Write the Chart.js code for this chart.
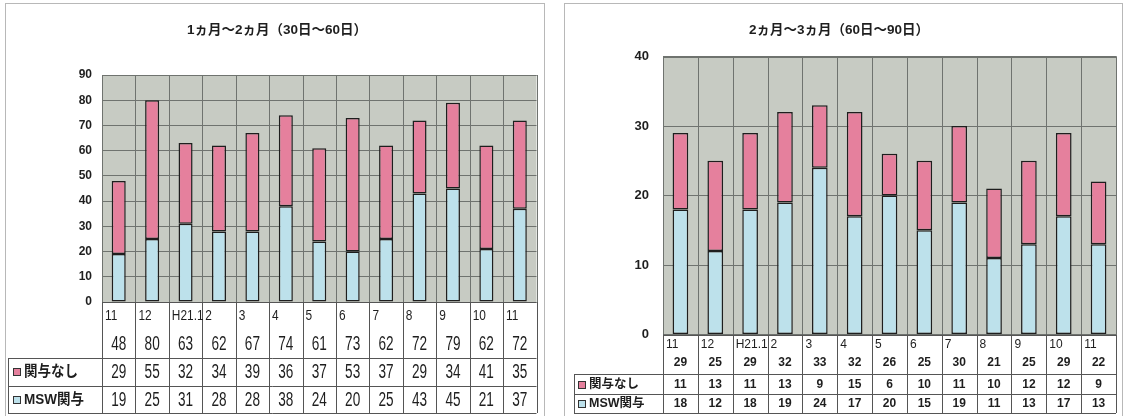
<!DOCTYPE html>
<html lang="ja">
<head>
<meta charset="utf-8">
<script src="https://cdn.jsdelivr.net/npm/chart.js@4.4.1/dist/chart.umd.min.js"></script>
<style>
  html, body { margin: 0; padding: 0; background: #fff; width: 1124px; height: 416px; overflow: hidden; }
  .panel { position: absolute; border: 1px solid #b8b8b8; background: #fff; box-sizing: border-box; }
  #p1 { left: 5px; top: 3px; width: 540px; height: 430px; }
  #p2 { left: 564px; top: 3px; width: 559px; height: 430px; }
  .panel canvas { position: absolute; left: 0; top: 0; }
</style>
</head>
<body>
<div class="panel" id="p1"><canvas id="c1" width="538" height="412"></canvas></div>
<div class="panel" id="p2"><canvas id="c2" width="557" height="412"></canvas></div>
<script>
// Months (H20.11 - H21.11)
const categories = ['11', '12', 'H21.1', '2', '3', '4', '5', '6', '7', '8', '9', '10', '11'];
const seriesNames = ['関与なし', 'MSW関与'];

// 1ヵ月～2ヵ月 (30日～60日)
const totals30 = [48, 80, 63, 62, 67, 74, 61, 73, 62, 72, 79, 62, 72];
const none30   = [29, 55, 32, 34, 39, 36, 37, 53, 37, 29, 34, 41, 35];
const msw30    = [19, 25, 31, 28, 28, 38, 24, 20, 25, 43, 45, 21, 37];
const yTicks30 = [0, 10, 20, 30, 40, 50, 60, 70, 80, 90];

// 2ヵ月～3ヵ月 (60日～90日)
const totals60 = [29, 25, 29, 32, 33, 32, 26, 25, 30, 21, 25, 29, 22];
const none60   = [11, 13, 11, 13, 9, 15, 6, 10, 11, 10, 12, 12, 9];
const msw60    = [18, 12, 18, 19, 24, 17, 20, 15, 19, 11, 13, 17, 13];
const yTicks60 = [0, 10, 20, 30, 40];

const PINK = '#e5809d';
const BLUE = '#bde1eb';
const PLOT_BG = '#c7cbc3';
const GRID = '#6f736f';
const INK = '#1e1e1e';
const FAMILY = "'Liberation Sans', 'Noto Sans CJK JP', sans-serif";

function txt(ctx, s, x, y, font, align, sx) {
  ctx.save();
  ctx.translate(x, y);
  ctx.scale(sx || 1, 1);
  ctx.font = font;
  ctx.textAlign = align;
  ctx.textBaseline = 'middle';
  ctx.fillStyle = INK;
  ctx.fillText(s, 0, 0);
  ctx.restore();
}

function hline(ctx, x1, x2, y) {
  ctx.beginPath(); ctx.moveTo(x1, y + 0.5); ctx.lineTo(x2, y + 0.5); ctx.stroke();
}
function vline(ctx, x, y1, y2) {
  ctx.beginPath(); ctx.moveTo(x + 0.5, y1); ctx.lineTo(x + 0.5, y2); ctx.stroke();
}

// Plot background, category separators, outline, title and the data table beneath the axis
const tablePlugin = {
  id: 'dataTable',
  beforeDraw(chart, args, o) {
    const { ctx, chartArea: a } = chart;
    ctx.save();
    ctx.fillStyle = PLOT_BG;
    ctx.fillRect(a.left, a.top, a.right - a.left, a.bottom - a.top);
    ctx.restore();
  },
  beforeDatasetsDraw(chart, args, o) {
    const { ctx, chartArea: a, scales: { x } } = chart;
    const step = x.getPixelForValue(1) - x.getPixelForValue(0);
    ctx.save();
    ctx.strokeStyle = GRID;
    ctx.lineWidth = 1;
    for (let i = 0; i <= o.categories.length; i++) {
      const px = Math.round(x.getPixelForValue(i) - step / 2);
      vline(ctx, px, a.top, a.bottom);
    }
    ctx.restore();
  },
  afterDraw(chart, args, o) {
    const { ctx, chartArea: a, scales: { x } } = chart;
    const step = x.getPixelForValue(1) - x.getPixelForValue(0);
    ctx.save();
    // plot outline
    ctx.strokeStyle = GRID;
    ctx.lineWidth = 1;
    hline(ctx, a.left, a.right, Math.round(a.top));
    vline(ctx, Math.round(a.right), a.top, a.bottom);
    // title
    txt(ctx, o.title, o.titleX, o.titleY, o.titleFont, 'center', 1);

    // table grid
    ctx.strokeStyle = '#555';
    hline(ctx, a.left, a.right, Math.round(a.bottom));
    for (let i = 0; i <= o.categories.length; i++) {
      const px = Math.round(x.getPixelForValue(i) - step / 2);
      vline(ctx, px, a.bottom, o.rowLines[o.rowLines.length - 1]);
    }
    o.rowLines.forEach(y => hline(ctx, o.keyLeft, a.right, y));
    vline(ctx, o.keyLeft, o.rowLines[0], o.rowLines[o.rowLines.length - 1]);

    // category labels and totals
    o.categories.forEach((c, i) => {
      const cx = x.getPixelForValue(i);
      txt(ctx, c, cx - step / 2 + 3, o.catY, o.catFont, 'left', o.catScale);
      txt(ctx, String(o.totals[i]), cx, o.totalY, o.numFont, 'center', o.numScale);
    });

    // series rows with legend keys
    o.rows.forEach((r, k) => {
      const y = o.rowY[k];
      ctx.fillStyle = r.color;
      ctx.strokeStyle = '#333';
      ctx.fillRect(o.keyLeft + o.keyGap, y - o.keySize / 2, o.keySize, o.keySize);
      ctx.strokeRect(o.keyLeft + o.keyGap + 0.5, y - o.keySize / 2 + 0.5, o.keySize - 1, o.keySize - 1);
      txt(ctx, r.label, o.keyLeft + o.keyGap + 3 + o.keySize, y, o.labelFont, 'left', o.labelScale);
      r.values.forEach((v, i) => {
        txt(ctx, String(v), x.getPixelForValue(i), y, o.numFont, 'center', o.numScale);
      });
    });
    ctx.restore();
  }
};

function makeChart(id, none, msw, totals, ticks, cfg) {
  const step = ticks[1] - ticks[0];
  return new Chart(document.getElementById(id), {
    type: 'bar',
    data: {
      labels: categories,
      datasets: [
        { label: seriesNames[1], data: msw, backgroundColor: BLUE },
        { label: seriesNames[0], data: none, backgroundColor: PINK }
      ]
    },
    options: {
      responsive: false,
      animation: false,
      events: [],
      layout: { padding: cfg.padding },
      datasets: {
        bar: {
          barPercentage: cfg.barPct,
          categoryPercentage: 1,
          borderColor: INK,
          borderWidth: 1.5,
          borderSkipped: false
        }
      },
      scales: {
        x: { stacked: true, display: false },
        y: {
          stacked: true,
          min: ticks[0],
          max: ticks[ticks.length - 1],
          afterFit(scale) { scale.width = cfg.axisWidth; },
          ticks: {
            stepSize: step,
            color: INK,
            padding: cfg.tickPad,
            font: { family: FAMILY, size: cfg.tickSize, weight: 'bold' }
          },
          grid: { color: GRID, lineWidth: 1, drawTicks: false },
          border: { color: GRID }
        }
      },
      plugins: {
        legend: { display: false },
        title: { display: false },
        tooltip: { enabled: false },
        dataTable: Object.assign({
          categories: categories,
          totals: totals,
          rows: [
            { label: seriesNames[0], color: PINK, values: none },
            { label: seriesNames[1], color: BLUE, values: msw }
          ]
        }, cfg.table)
      }
    },
    plugins: [tablePlugin]
  });
}

makeChart('c1', none30, msw30, totals30, yTicks30, {
  padding: { top: 71, right: 7.5, bottom: 114, left: 0 },
  axisWidth: 96,
  barPct: 0.42,
  tickSize: 12,
  tickPad: 10,
  table: {
    title: '1ヵ月～2ヵ月（30日～60日）',
    titleX: 271, titleY: 26,
    titleFont: 'bold 13.5px ' + FAMILY,
    catY: 312, totalY: 340,
    rowY: [368, 396],
    rowLines: [354, 382, 409],
    keyLeft: 2, keyGap: 5, keySize: 8,
    catFont: '14px ' + FAMILY, catScale: 0.85,
    numFont: '20px ' + FAMILY, numScale: 0.68,
    labelFont: 'bold 15px ' + FAMILY, labelScale: 0.9
  }
});

makeChart('c2', none60, msw60, totals60, yTicks60, {
  padding: { top: 52.5, right: 6, bottom: 81.5, left: 0 },
  axisWidth: 98,
  barPct: 0.45,
  tickSize: 13,
  tickPad: 14,
  table: {
    title: '2ヵ月～3ヵ月（60日～90日）',
    titleX: 274, titleY: 26,
    titleFont: 'bold 13.5px ' + FAMILY,
    catY: 341, totalY: 359,
    rowY: [381, 400],
    rowLines: [370, 390, 409],
    keyLeft: 9, keyGap: 4, keySize: 8,
    catFont: '12px ' + FAMILY, catScale: 1,
    numFont: 'bold 12px ' + FAMILY, numScale: 1,
    labelFont: 'bold 12.5px ' + FAMILY, labelScale: 1
  }
});
</script>
</body>
</html>
